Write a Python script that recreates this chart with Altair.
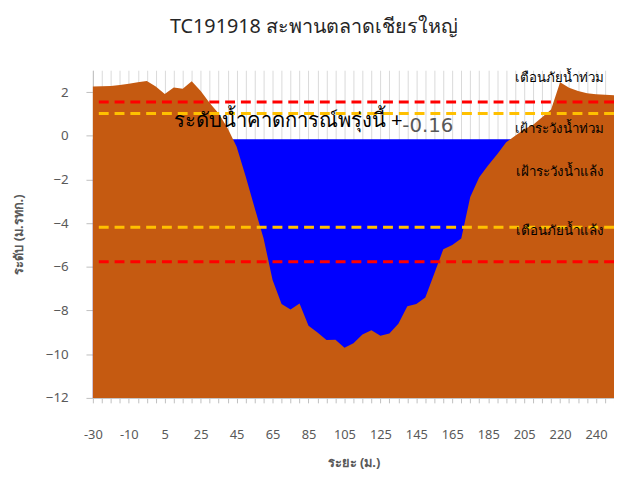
import altair as alt
import pandas as pd

categories = ["-30", "-25", "-20", "-15", "-10", "-5", "0", "2", "5", "10",
              "15", "20", "25", "30", "35", "40", "45", "50", "55", "60",
              "65", "70", "75", "80", "85", "90", "95", "100", "105", "110",
              "115", "120", "125", "130", "135", "140", "145", "150", "155", "160",
              "165", "170", "175", "180", "185", "190", "195", "200", "205", "210",
              "212", "215", "220", "225", "230", "235", "240", "245", "250"]
ground = [2.26, 2.27, 2.28, 2.33, 2.38, 2.45, 2.51, 2.25, 1.91, 2.21,
          2.15, 2.50, 2.05, 1.50, 1.02, 0.35, -0.50, -1.85, -3.30, -4.70,
          -6.60, -7.70, -7.95, -7.68, -8.70, -9.00, -9.35, -9.34, -9.70, -9.50,
          -9.10, -8.90, -9.15, -9.05, -8.60, -7.80, -7.70, -7.40, -6.30, -5.20,
          -5.00, -4.70, -2.80, -1.90, -1.35, -0.85, -0.30, 0.00, 0.30, 0.50,
          0.85, 1.20, 2.45, 2.20, 2.05, 1.95, 1.90, 1.88, 1.85]
water_level = -0.16
shown_labels = ["-30", "-10", "5", "25", "45", "65", "85", "105", "125", "145",
                "165", "185", "205", "220", "240"]

threshold_values = [1.55, 1.02, -4.19, -5.77]
threshold_colors = ["#FF0000", "#FFC000", "#FFC000", "#FF0000"]

note_texts = ["เตือนภัยน้ำท่วม", "เฝ้าระวังน้ำท่วม", "เฝ้าระวังน้ำแล้ง", "เตือนภัยน้ำแล้ง"]
note_cats = ["215", "215", "215", "215"]
note_y = [2.62, 0.32, -1.67, -4.38]

forecast_label = "ระดับน้ำคาดการณ์พรุ่งนี้ +"
forecast_cat = "10"
forecast_y = 0.68
value_cat = "135"
value_y = 0.45

Y_MIN, Y_MAX = -12, 3
y_ticks = [-12, -10, -8, -6, -4, -2, 0, 2]

FONT = "Tahoma, 'Noto Sans', 'DejaVu Sans', sans-serif"

df = pd.DataFrame({"cat": categories, "ground": ground,
                   "water": [water_level] * len(categories)})
thr = pd.DataFrame({"v": threshold_values, "c": threshold_colors})
notes = pd.DataFrame({"t": note_texts, "cat": note_cats, "y": note_y})
fc = pd.DataFrame({"t": [forecast_label], "cat": [forecast_cat], "y": [forecast_y]})
val = pd.DataFrame({"t": [f"{water_level:.2f}"], "cat": [value_cat], "y": [value_y]})

label_js = "[" + ",".join("'" + s + "'" for s in shown_labels) + "]"

x_enc = alt.X("cat:O", sort=categories, scale=alt.Scale(domain=categories, padding=0),
              axis=alt.Axis(title="ระยะ (ม.)", labelAngle=0, labelOverlap=False,
                            labelExpr=f"indexof({label_js}, datum.label) >= 0 ? datum.label : ''",
                            grid=True, gridColor="#D9D9D9", domainColor="#BFBFBF",
                            tickColor="#BFBFBF", tickSize=5, labelPadding=26,
                            labelColor="#595959", labelFontSize=13, labelFont=FONT,
                            titleColor="#595959", titleFontSize=13, titleFont=FONT,
                            titleFontWeight="bold", titlePadding=15))
y_scale = alt.Scale(domain=[Y_MIN, Y_MAX], nice=False, zero=False)
y_axis = alt.Axis(title="ระดับ (ม.รทก.)", values=y_ticks, grid=False,
                  domainColor="#BFBFBF", tickColor="#BFBFBF", tickSize=7,
                  labelPadding=18, labelColor="#595959", labelFontSize=13.5,
                  labelFont=FONT, titleColor="#595959", titleFontSize=13,
                  titleFont=FONT, titleFontWeight="bold", titlePadding=20)

water = alt.Chart(df).mark_area(color="#0000FF").encode(
    x=x_enc, y=alt.Y("water:Q", scale=y_scale, axis=y_axis), y2=alt.datum(Y_MIN))
land = alt.Chart(df).mark_area(color="#C55A11").encode(
    x=alt.X("cat:O", sort=categories), y=alt.Y("ground:Q"), y2=alt.datum(Y_MIN))
rules = alt.Chart(thr).mark_rule(strokeDash=[10, 6], strokeWidth=3).encode(
    y="v:Q", color=alt.Color("c:N", scale=None))
note_marks = alt.Chart(notes).mark_text(font=FONT, fontSize=13.5, color="#000000",
                                        align="center", baseline="middle", dx=9).encode(
    x=alt.X("cat:O", sort=categories), y="y:Q", text="t:N")
fc_mark = alt.Chart(fc).mark_text(font=FONT, fontSize=20.5, color="#000000",
                                  align="left", baseline="middle").encode(
    x=alt.X("cat:O", sort=categories), y="y:Q", text="t:N")
val_mark = alt.Chart(val).mark_text(font="'DejaVu Sans', sans-serif", fontSize=20,
                                    color="#595959", align="left",
                                    baseline="middle", dx=4).encode(
    x=alt.X("cat:O", sort=categories), y="y:Q", text="t:N")

chart = alt.layer(water, land, rules, note_marks, fc_mark, val_mark).properties(
    width=528, height=332,
    title=alt.Title("TC191918 สะพานตลาดเชียรใหญ่", font=FONT, fontSize=20,
                    fontWeight="normal", color="#262626", anchor="middle",
                    offset=34, dx=-40),
    autosize=alt.AutoSizeParams(type="none"),
    padding={"left": 86, "top": 60, "right": 0, "bottom": 72},
).configure_view(stroke=None)

chart.save("out.html", embed_options={"renderer": "svg", "actions": False})
